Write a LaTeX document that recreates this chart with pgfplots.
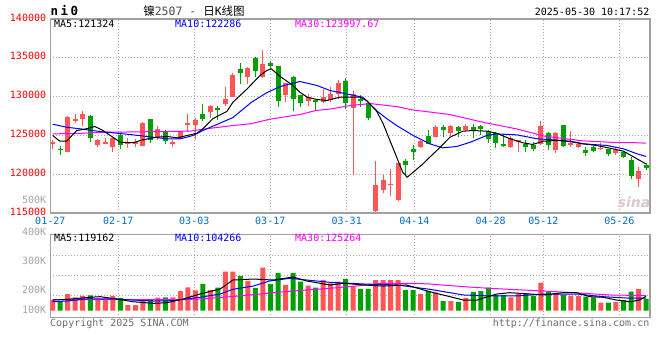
\documentclass[border=0pt]{standalone}
\usepackage{pgfplots}
\pgfplotsset{compat=1.18}
\usepackage{pgfplotstable}
\usepackage{fontspec}
\setmainfont{DejaVu Sans Mono}
\newfontfamily\cjk{Noto Sans CJK SC}
\newfontfamily\dvsans{DejaVu Sans}
\definecolor{upred}{RGB}{255,85,85}
\definecolor{dngreen}{RGB}{0,160,0}
\definecolor{framegray}{RGB}{160,160,160}
\definecolor{gridgray}{RGB}{170,170,170}
\definecolor{datblue}{RGB}{0,110,200}
\definecolor{labred}{RGB}{255,0,0}
\definecolor{volgray}{RGB}{165,165,165}
\definecolor{maten}{RGB}{0,0,255}
\definecolor{mathirty}{RGB}{255,0,255}
\definecolor{txtgray}{RGB}{110,110,110}
\definecolor{sinagray}{RGB}{220,200,200}

% candles: index, open, high, low, close
\pgfplotstableread{
i o h l c
0 123900 124450 123250 124100
2 122850 127450 122800 127400
3 126850 127700 126600 127150
4 127150 128100 126200 127700
6 123700 124600 123550 124450
7 123900 124700 123850 124200
8 123500 124700 122850 124700
10 123950 124700 123400 124150
11 123950 124600 123550 124150
12 123600 126700 123600 126600
14 124800 126250 124350 125850
16 123850 124450 123500 124150
17 124550 125600 124500 125550
18 126300 127800 125500 126600
19 126400 127200 124600 127000
21 128000 128900 127200 128850
23 129100 131300 128850 129700
24 130000 133100 129900 132800
26 132500 133750 131650 133700
28 132500 136050 132450 134200
31 130250 131750 129300 131750
34 129400 130350 128750 129950
36 129350 131000 129200 129950
37 129500 131200 129300 130350
38 130350 132200 129650 131700
40 128550 130700 119950 130350
43 115200 121650 115150 118550
44 117900 119850 117550 119200
45 118550 120700 117150 118750
46 116700 121500 116600 121450
49 123500 124400 123400 124250
51 124850 126300 124850 126050
53 125350 126350 124950 126150
55 125750 126500 125550 126250
61 123500 124900 123400 124650
62 124200 124450 122850 124400
65 123900 126850 123700 126200
67 123150 125400 122700 125350
69 123750 125550 123550 124000
70 123500 124000 123400 123900
73 123200 124000 123100 123400
75 122700 123500 122450 123150
78 119400 120900 118400 120350
}\upk
\pgfplotstableread{
i o h l c
1 123250 123570 122500 123100
5 127550 127600 124100 124700
9 125100 125150 123200 123700
13 127050 127050 124050 124350
15 125600 125750 123900 124250
20 127700 129100 126800 127100
22 128500 128750 126950 128300
25 133600 134300 131650 133000
27 135000 135100 132500 133350
29 134350 134650 133600 134000
30 133900 133900 128700 129400
32 132500 132700 128100 129650
33 130150 130200 128700 129150
35 129550 129600 128200 129350
39 132000 132400 128450 129150
41 129650 130150 128650 129400
42 129200 129250 127000 127200
47 121750 122000 119950 121150
48 123300 123800 121800 122900
50 124900 125700 123900 123950
52 126050 126400 124850 125750
54 126050 126250 124850 125550
56 126050 126500 124700 125750
57 126250 126400 125100 125800
58 125550 125700 124000 124550
59 125350 125500 123400 124000
60 123950 125200 123500 123650
63 123900 124400 122850 123500
64 123800 124200 123050 123300
66 125350 125400 123100 123700
68 126300 126400 123550 123600
71 123150 123500 122400 122700
72 123500 123650 122850 123050
74 123250 123300 122400 122650
76 122850 123000 122150 122200
77 121850 122200 119400 119750
79 121200 121400 120550 120850
}\dnk
% volume (thousands)
\pgfplotstableread{
i v
0 88
2 138
3 111
4 122
6 97
7 97
8 122
10 47
11 47
12 80
14 108
16 111
17 163
18 194
19 169
21 171
23 323
24 323
26 246
28 356
31 213
34 207
36 254
37 227
38 240
40 204
43 254
44 254
45 254
46 254
49 138
51 149
53 80
55 103
61 111
62 144
65 232
67 138
69 122
70 122
73 66
75 74
78 180
}\volup
\pgfplotstableread{
i v
1 74
5 127
9 103
13 88
15 111
20 221
22 190
25 287
27 188
29 221
30 314
32 314
33 240
35 190
39 262
41 180
42 180
47 171
48 171
50 163
52 80
54 72
56 155
57 163
58 190
59 130
60 130
63 144
64 122
66 157
68 130
71 116
72 111
74 66
76 88
77 157
79 97
}\voldn

\pgfplotsset{
  panel/.style={
    scale only axis, width=599.7bp,
    xmin=-0.32, xmax=79.53,
    scaled x ticks=false, scaled y ticks=false,
    axis line style={draw=framegray, line width=1.5bp},
    tick style={draw=none},
    xmajorgrids, ymajorgrids,
    grid style={draw=gridgray, line width=0.8bp, dash pattern=on 1bp off 2bp},
    xtick={-0.32,8.73,18.85,28.97,39.15,48.15,58.32,65.33,75.45},
  },
  wick/.style={draw=none, mark=none, forget plot,
    error bars/.cd, y dir=plus, y explicit, error mark=none,
    error bar style={draw=#1, line width=1bp}},
  body/.style={draw=none, mark=none, forget plot,
    error bars/.cd, y dir=plus, y explicit, error mark=none,
    error bar style={draw=#1, line width=5bp}},
}

\begin{document}
\fontsize{10bp}{12bp}\selectfont
\begin{tikzpicture}
\fill[white] (0,0) rectangle (660bp,360bp);
\path[use as bounding box] (0,0) rectangle (660bp,360bp);

% ---------- price panel ----------
\begin{axis}[panel, at={(50.3bp,147bp)}, anchor=south west, height=194bp,
  ymin=115000, ymax=140000,
  ytick={115000,120000,125000,130000,135000,140000},
  yticklabels={115000,120000,125000,130000,135000,140000},
  yticklabel style={text=labred, anchor=east, inner sep=0pt, xshift=-4bp, yshift=1.5bp},
  xticklabels={01-27,02-17,03-03,03-17,03-31,04-14,04-28,05-12,05-26},
  xticklabel style={text=datblue, anchor=base, inner sep=0pt, yshift=-11.5bp},
]
\addplot[wick=upred] table[x=i, y=l, y error expr=\thisrow{h}-\thisrow{l}] {\upk};
\addplot[wick=dngreen] table[x=i, y=l, y error expr=\thisrow{h}-\thisrow{l}] {\dnk};
\addplot[body=upred] table[x=i, y=o, y error expr=\thisrow{c}-\thisrow{o}] {\upk};
\addplot[body=dngreen] table[x=i, y=c, y error expr=\thisrow{o}-\thisrow{c}] {\dnk};
% MA30
\addplot[mathirty, line width=1bp, mark=none] coordinates {
(0,125200) (3.6,125250) (6.3,125400) (11,125450) (18.3,125550) (20,125800)
(24,126270) (26.4,126500) (29,127100) (33,127700) (35,128200) (37,128400)
(39.6,128850) (42.3,129100) (45.9,128700) (47.8,128300) (52.8,127700)
(57.5,126650) (61.7,125850) (65.5,124900) (70.5,124300) (75,124080)
(78,124050) (79,124000)};
% MA10
\addplot[maten, line width=1bp, mark=none] coordinates {
(0,126450) (1.86,126050) (3.6,125850) (6.3,125500) (10.7,125070) (15.2,124560)
(17.0,124560) (18.7,124990) (20.0,125630) (24.0,127300) (26.5,129300)
(28.5,130500) (30.3,131300) (32.9,131950) (35.2,131430) (36.9,130790)
(41.3,129920) (43.1,128200) (44.5,127140) (45.8,126270) (48.0,124990)
(50.2,123920) (51.9,123400) (53.8,123570) (55.6,124120) (57.8,124990)
(59.1,125200) (61.8,125070) (64.5,124560) (68.0,124340) (70.6,123920)
(73.8,123700) (76.0,123270) (77.8,122630) (79,122290)};
% MA5
\addplot[black, line width=1bp, mark=none] coordinates {
(0,125000) (0.53,124560) (0.97,124250) (1.86,124250) (3.2,125630) (4.5,125850)
(5.6,126150) (6.7,125630) (8.0,124770) (9.0,124120) (10.7,124050) (12.0,124430)
(13.9,124770) (15.2,124860) (16.6,124690) (17.9,124990) (19.2,125280)
(20.0,125850) (21.3,127140) (23.2,128100) (24.0,129280) (25.9,131000)
(27.6,132720) (28.5,133360) (29.1,133580) (30.3,132590) (32.0,131430)
(32.9,130570) (33.9,129920) (35.2,129630) (36.5,129500) (38.2,129920)
(40.9,129920) (41.8,129500) (43.1,128200) (44.0,126500) (44.9,124340)
(45.8,122190) (46.6,120260) (47.2,119610) (48.0,120260) (49.3,121340)
(50.2,122190) (51.6,123480) (52.9,124770) (54.6,125540) (56.0,125630)
(57.8,125540) (59.1,125280) (60.9,124560) (62.6,124050) (63.9,123830)
(65.3,124250) (67.1,124340) (68.9,124250) (70.6,123920) (72.4,123700)
(74.2,123350) (76.0,122960) (77.8,121980) (79,121320)};
\end{axis}

% ---------- volume panel ----------
\begin{axis}[panel, at={(50.3bp,42.3bp)}, anchor=south west, height=83bp,
  ymin=-58, ymax=629, ytick={130,295,458},
  yticklabels={,,}, xticklabels={,,,,,,,,},
]
\addplot[ybar, bar width=5bp, bar shift=0pt, fill=upred, draw=none] table[x=i, y=v] {\volup};
\addplot[ybar, bar width=5bp, bar shift=0pt, fill=dngreen, draw=none] table[x=i, y=v] {\voldn};
\addplot[mathirty, line width=1bp, mark=none] coordinates {
(0,92) (17,91) (19.6,97) (22.7,111) (25.8,127) (28.5,144) (32,163) (36.9,185)
(41.4,210) (43.6,225) (48,227) (50.2,221) (54.7,199) (58.2,185) (62.7,171)
(67.1,157) (70.7,144) (74.2,130) (79,125)};
\addplot[maten, line width=1bp, mark=none] coordinates {
(0,74) (1.9,80) (4.5,97) (8.5,97) (10.7,88) (13.4,80) (16.1,83) (17.8,97)
(19.6,111) (22.3,138) (24,177) (26.7,204) (28.9,246) (31.6,268) (33.8,254)
(36.9,235) (41.4,221) (45.8,213) (50.2,177) (54.7,130) (58.2,122) (61.8,122)
(65.3,138) (69.8,138) (73.3,116) (76.9,103) (79,104)};
\addplot[black, line width=1bp, mark=none] coordinates {
(0,88) (1.9,94) (5,111) (6.3,116) (8.5,97) (10.7,74) (13.4,61) (15.2,66)
(17.4,97) (19.6,138) (22.3,180) (24,254) (26.7,262) (29.4,254) (32,279)
(33.8,246) (36.9,213) (38.7,227) (41.4,213) (44,204) (47.1,213) (50.2,157)
(52.9,116) (54.7,88) (56.5,88) (59.1,138) (60.9,149) (63.6,138) (65.3,130)
(68,149) (69.8,149) (71.5,116) (73.3,111) (75.1,88) (76.9,74) (78.1,88)
(79,119)};
\end{axis}

% ---------- texts ----------
\node[anchor=west, inner sep=0pt, font=\bfseries\fontsize{12.5bp}{13bp}\selectfont]
  at (50.5bp,349bp) {n\kern2.4bp i\kern2.4bp 0};
\node[inner sep=0pt, font=\fontsize{11.5bp}{12bp}\selectfont] at (194bp,349bp)
  {{\cjk 镍}\textcolor{black!70}{2507 - }{\cjk 日}K{\cjk 线图}};
\node[anchor=east, inner sep=0pt] at (649.5bp,348.3bp) {2025-05-30 10:17:52};

\node[anchor=west, inner sep=0pt] at (54bp,336.3bp) {MA5:121324};
\node[anchor=west, inner sep=0pt, text=maten] at (175bp,336.3bp) {MA10:122286};
\node[anchor=west, inner sep=0pt, text=mathirty] at (295bp,336.3bp) {MA30:123997.67};

\node[anchor=west, inner sep=0pt] at (54bp,121.7bp) {MA5:119162};
\node[anchor=west, inner sep=0pt, text=maten] at (175bp,121.7bp) {MA10:104266};
\node[anchor=west, inner sep=0pt, text=mathirty] at (295bp,121.7bp) {MA30:125264};

\node[anchor=east, inner sep=0pt, text=volgray] at (46.3bp,160bp) {500K};
\node[anchor=east, inner sep=0pt, text=volgray] at (46.3bp,128.3bp) {400K};
\node[anchor=east, inner sep=0pt, text=volgray] at (46.3bp,99bp) {300K};
\node[anchor=east, inner sep=0pt, text=volgray] at (46.3bp,69.7bp) {200K};
\node[anchor=east, inner sep=0pt, text=volgray] at (46.3bp,50bp) {100K};

\node[anchor=base west, inner sep=0pt, text=txtgray] at (50bp,34bp) {Copyright 2025 SINA.COM};
\node[anchor=base east, inner sep=0pt, text=txtgray] at (649.5bp,34bp) {http://finance.sina.com.cn};

\node[inner sep=0pt, text=sinagray, font=\dvsans\bfseries\itshape\fontsize{14bp}{14bp}\selectfont]
  at (634bp,158bp) {sina};
\end{tikzpicture}
\end{document}
